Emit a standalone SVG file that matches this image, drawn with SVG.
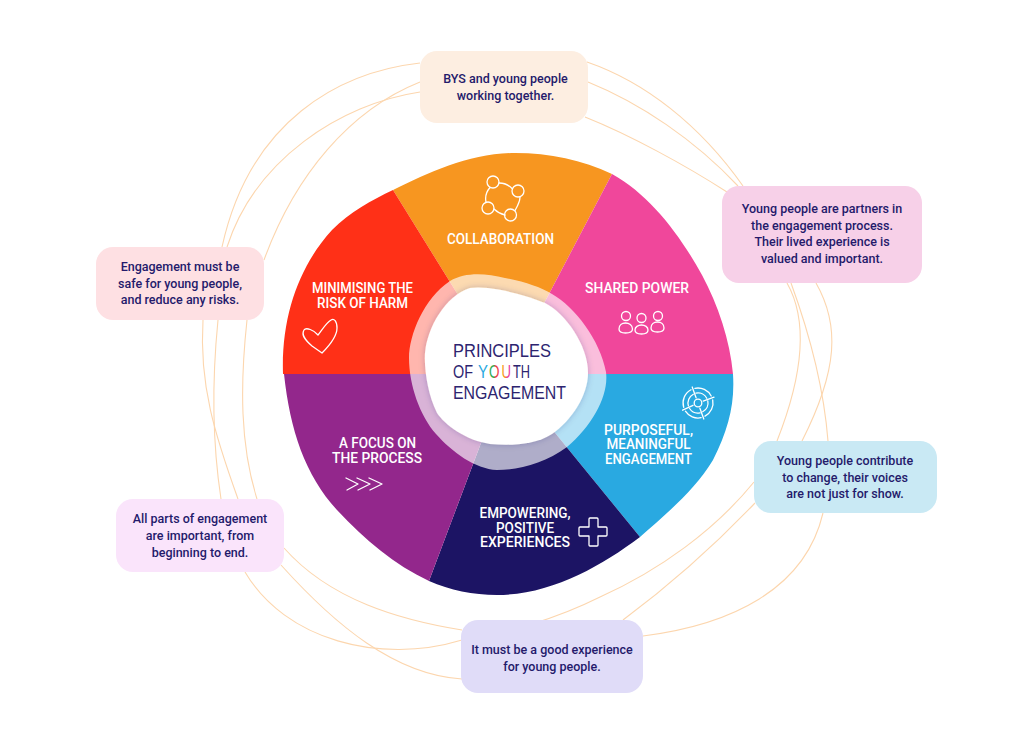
<svg xmlns="http://www.w3.org/2000/svg" width="1024" height="737" viewBox="0 0 1024 737">
<defs>
<style>
.c{fill:none;stroke:#fcd6ae;stroke-width:1.100}
.box{stroke:none}
.t{font-family:"Roboto","Liberation Sans",sans-serif;font-size:12.500px;font-weight:500;fill:#241a6b;text-anchor:middle}
.l{font-family:"Roboto","Liberation Sans",sans-serif;font-size:14px;font-weight:500;fill:#fff;text-anchor:middle}
.h{font-family:"Liberation Sans","Roboto",sans-serif;font-size:18.300px;font-weight:400;fill:#2d2470}
.i{fill:none;stroke:#fff;stroke-width:1.300;stroke-linecap:round;stroke-linejoin:round}
</style>
<clipPath id="blob"><path d="M283 374C281 315 300 265 332 230C350 212 372 200 393 190C430 172 470 153 515 153C550 153 582 160 612 174C650 195 680 235 702 275C718 305 730 340 733 374C735 405 728 430 713 460C695 490 665 515 640 537C600 567 550 595 497 595C473 595 450 590 429 581C395 565 365 540 337 510C305 475 290 430 284 374Z"/></clipPath>
<linearGradient id="gO" gradientUnits="userSpaceOnUse" x1="489" y1="0" x2="500" y2="0"><stop offset="0.450" stop-color="#2fa84f"/><stop offset="0.550" stop-color="#ee3a43"/></linearGradient>
<linearGradient id="gU" gradientUnits="userSpaceOnUse" x1="501" y1="0" x2="511" y2="0"><stop offset="0.400" stop-color="#f79620"/><stop offset="0.600" stop-color="#e8409b"/></linearGradient>
<filter id="soft" x="-20%" y="-20%" width="140%" height="140%"><feDropShadow dx="0" dy="0" stdDeviation="3" flood-color="#1c1464" flood-opacity=".22"/></filter>
</defs>
<rect width="1024" height="737" fill="#fff"/>
<g id="connectors">
<path class="c" d="M420 63C340 72 250 120 222 247"/>
<path class="c" d="M420 92C340 104 255 160 227 247"/>
<path class="c" d="M420 82C350 110 295 175 264 260"/>
<path class="c" d="M587 62C645 82 700 125 743 186"/>
<path class="c" d="M588 82C640 103 695 140 738 186"/>
<path class="c" d="M585 117C630 135 685 165 727 192"/>
<path class="c" d="M787 283C808 320 803 375 777 441"/>
<path class="c" d="M816 283C840 325 838 370 802 441"/>
<path class="c" d="M791 283C810 335 824 390 828 441"/>
<path class="c" d="M823 513C805 590 730 625 643 636"/>
<path class="c" d="M755 503C715 545 670 585 623 620"/>
<path class="c" d="M754 482C715 530 660 570 600 597C570 612 545 620 532 624"/>
<path class="c" d="M245 572C285 640 380 665 462 640"/>
<path class="c" d="M281 565C335 625 395 675 462 679"/>
<path class="c" d="M284 548C330 600 400 620 462 630"/>
<path class="c" d="M203 320C199 385 215 435 238 499"/>
<path class="c" d="M218 320C212 380 212 440 221 499"/>
<path class="c" d="M247 320C240 385 240 445 257 499"/>
</g>
<g id="wheel">
<g clip-path="url(#blob)">
<path fill="#f79620" d="M507 374L393 190L450 100L650 100L612 174Z"/>
<path fill="#f0479b" d="M507 374L612 174L650 100L780 200L780 374Z"/>
<path fill="#29a9e1" d="M507 374L780 374L780 600L640 537Z"/>
<path fill="#1c1464" d="M507 374L640 537L680 640L400 640L429 581Z"/>
<path fill="#93278c" d="M507 374L429 581L400 640L240 640L240 374Z"/>
<path fill="#ff3017" d="M507 374L240 374L240 120L370 150L393 190Z"/>
</g>
<path fill="#fff" opacity=".65" d="M450 281C465 272 485 273 505 278C525 282 540 287 552 294C575 307 600 340 606 372C609 395 593 425 567 447C545 463 520 470 497 470C475 469 452 452 436 434C420 416 409 385 409 358C409 335 424 298 450 281Z"/>
</g>
<g id="centre">
<path fill="#fff" filter="url(#soft)" d="M470 288C490 285 525 295 545 303C565 313 588 345 588 373C588 395 572 420 552 434C535 445 510 446 490 444C465 440 445 425 437 413C428 395 424 370 425 353C427 328 445 296 470 288Z"/>
<text class="h" x="453" y="357" textLength="98" lengthAdjust="spacingAndGlyphs">PRINCIPLES</text>
<text class="h" x="453" y="378" textLength="20" lengthAdjust="spacingAndGlyphs">OF</text>
<text class="h" x="478" y="378" textLength="10" lengthAdjust="spacingAndGlyphs" style="fill:#29a9e1">Y</text>
<text class="h" x="489" y="378" textLength="10.500" lengthAdjust="spacingAndGlyphs" style="fill:url(#gO)">O</text>
<text class="h" x="501.500" y="378" textLength="9.500" lengthAdjust="spacingAndGlyphs" style="fill:url(#gU)">U</text>
<text class="h" x="513" y="378" textLength="17" lengthAdjust="spacingAndGlyphs">TH</text>
<text class="h" x="453" y="399" textLength="113" lengthAdjust="spacingAndGlyphs">ENGAGEMENT</text>
</g>
<g id="collaboration">
<text class="l" x="500.500" y="244" textLength="107" lengthAdjust="spacingAndGlyphs">COLLABORATION</text>
<g class="i">
<circle cx="493" cy="182" r="6"/><circle cx="488" cy="208" r="6"/><circle cx="518" cy="191" r="6"/><circle cx="510.500" cy="215" r="6"/>
<path d="M490 187.500C486 192 485 197 486 202M499 183C505 183 509 185 512.500 189M520 197C520 202 517 207 515 210.500M494 209C497 212 501 214 505 215"/>
</g>
</g>
<g id="shared-power">
<text class="l" x="637" y="293" textLength="104" lengthAdjust="spacingAndGlyphs">SHARED POWER</text>
<g class="i">
<circle cx="626" cy="316" r="4.500"/><circle cx="641.500" cy="318" r="4.500"/><circle cx="658" cy="316" r="4.500"/>
<path d="M619 329C619 325 622 323 625.500 323C629 323 632.500 325 632.500 329C632.500 332 630 333 625.500 333C621 333 619 332 619 329Z"/>
<path d="M635 330C635 327 638 325 641.500 325C645 325 648 327 648 330C648 333 646 334 641.500 334C637 334 635 333 635 330Z"/>
<path d="M651 328C651 324 654 322 657.500 322C661 322 664 324 664 328C664 331 662 332 657.500 332C653 332 651 331 651 328Z"/>
</g>
</g>
<g id="purposeful">
<text class="l" x="648.500" y="435" textLength="89" lengthAdjust="spacingAndGlyphs">PURPOSEFUL,</text>
<text class="l" x="648.500" y="449" textLength="84" lengthAdjust="spacingAndGlyphs">MEANINGFUL</text>
<text class="l" x="648.500" y="464" textLength="87" lengthAdjust="spacingAndGlyphs">ENGAGEMENT</text>
<g class="i">
<circle cx="698" cy="403" r="3.800"/>
<path d="M694.900 388.300A15 15 0 0 1 711.200 396M712.700 399.900A15 15 0 0 1 705 416.200M701.100 417.700A15 15 0 0 1 685.400 411.200M683.700 407.400A15 15 0 0 1 691 389.800"/>
<path d="M695.900 393.200A10 10 0 0 1 706.800 398.300M707.800 400.900A10 10 0 0 1 702.700 411.800M700.100 412.800A10 10 0 0 1 689.600 408.500M688.400 405.900A10 10 0 0 1 693.300 394.200"/>
<path d="M696.100 397.800L692.200 387M703.200 401.100L714 397.200M699.900 408.200L703.800 419M693 405.300L682.600 410.200"/>
</g>
</g>
<g id="empowering">
<text class="l" x="525" y="518" textLength="91" lengthAdjust="spacingAndGlyphs">EMPOWERING,</text>
<text class="l" x="525" y="533" textLength="58" lengthAdjust="spacingAndGlyphs">POSITIVE</text>
<text class="l" x="525" y="547" textLength="90" lengthAdjust="spacingAndGlyphs">EXPERIENCES</text>
<path class="i" d="M589 519Q589 518 590 518L597 518Q598 518 598 519L598 527L606 527Q607 527 607 528L607 535Q607 536 606 536L598 536L598 545Q598 546 597 546L590 546Q589 546 589 545L589 536L580 536Q579 536 579 535L579 528Q579 527 580 527L589 527Z"/>
</g>
<g id="process">
<text class="l" x="377.500" y="448" textLength="77" lengthAdjust="spacingAndGlyphs">A FOCUS ON</text>
<text class="l" x="377" y="463" textLength="90" lengthAdjust="spacingAndGlyphs">THE PROCESS</text>
<path class="i" d="M346 478L358 484L347 490M357 478L370 484L358 490M369 478L382 484L370 490"/>
</g>
<g id="harm">
<text class="l" x="362.500" y="293" textLength="101" lengthAdjust="spacingAndGlyphs">MINIMISING THE</text>
<text class="l" x="362.500" y="308" textLength="91" lengthAdjust="spacingAndGlyphs">RISK OF HARM</text>
<path class="i" d="M318 335C314 330 306 327 304 330C301 335 305 340 312 346L322 353C330 345 337 335 337 328C337 321 334 318 331 320C326 323 322 330 318 335Z"/>
</g>
<g id="note-collaboration">
<rect class="box" x="420" y="51" width="168" height="72" rx="17" fill="#fdeee1"/>
<text class="t" x="505.500" y="83">BYS and young people</text>
<text class="t" x="505.500" y="100">working together.</text>
</g>
<g id="note-power">
<rect class="box" x="722" y="186" width="200" height="97" rx="17" fill="#f7d0e8"/>
<text class="t" x="822" y="213">Young people are partners in</text>
<text class="t" x="822" y="230">the engagement process.</text>
<text class="t" x="822" y="246">Their lived experience is</text>
<text class="t" x="822" y="263">valued and important.</text>
</g>
<g id="note-purpose">
<rect class="box" x="754" y="441" width="183" height="72" rx="17" fill="#c9e9f4"/>
<text class="t" x="845" y="465">Young people contribute</text>
<text class="t" x="845" y="482">to change, their voices</text>
<text class="t" x="845" y="498">are not just for show.</text>
</g>
<g id="note-experience">
<rect class="box" x="461" y="620" width="182" height="73" rx="17" fill="#e0dcf8"/>
<text class="t" x="552" y="654">It must be a good experience</text>
<text class="t" x="552" y="671">for young people.</text>
</g>
<g id="note-process">
<rect class="box" x="116" y="499" width="168" height="73" rx="17" fill="#fae4fb"/>
<text class="t" x="200" y="523">All parts of engagement</text>
<text class="t" x="200" y="540">are important, from</text>
<text class="t" x="200" y="557">beginning to end.</text>
</g>
<g id="note-harm">
<rect class="box" x="96" y="247" width="168" height="73" rx="17" fill="#fee0e3"/>
<text class="t" x="180" y="271">Engagement must be</text>
<text class="t" x="180" y="288">safe for young people,</text>
<text class="t" x="180" y="304">and reduce any risks.</text>
</g>
</svg>
